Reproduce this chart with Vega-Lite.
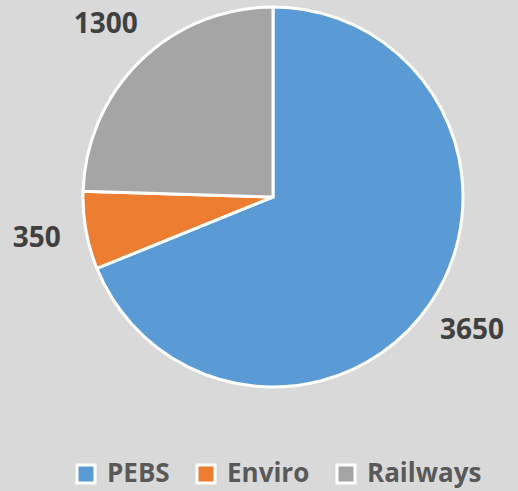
{
  "$schema": "https://vega.github.io/schema/vega-lite/v6.json",
  "width": 380,
  "height": 380,
  "padding": {"left": 83, "top": 7, "right": 55, "bottom": 104},
  "autosize": {"type": "none"},
  "background": "#d9d9d9",
  "config": {"view": {"stroke": null}, "font": "Open Sans"},
  "data": {
    "values": [
      {"category": "PEBS", "value": 3650, "rank": 1},
      {"category": "Enviro", "value": 350, "rank": 2},
      {"category": "Railways", "value": 1300, "rank": 3}
    ]
  },
  "encoding": {
    "theta": {"field": "value", "type": "quantitative", "stack": true},
    "order": {"field": "rank", "type": "quantitative"},
    "color": {
      "field": "category",
      "type": "nominal",
      "scale": {"domain": ["PEBS", "Enviro", "Railways"], "range": ["#5b9bd5", "#ed7d31", "#a5a5a5"]},
      "legend": {
        "title": null,
        "orient": "none",
        "direction": "horizontal",
        "legendX": -10,
        "legendY": 454,
        "symbolType": "square",
        "symbolSize": 324,
        "symbolStrokeColor": "white",
        "symbolStrokeWidth": 3,
        "symbolOpacity": 1,
        "labelFont": "Open Sans",
        "labelFontSize": 26,
        "labelFontWeight": "bold",
        "labelColor": "#595959",
        "labelOffset": 8,
        "columnPadding": 21,
        "labelLimit": 300
      }
    }
  },
  "layer": [
    {"mark": {"type": "arc", "outerRadius": 190, "stroke": "white", "strokeWidth": 3}},
    {
      "mark": {"type": "text", "radius": 240, "font": "Open Sans", "fontSize": 28, "fontWeight": "bold", "fill": "#404040"},
      "encoding": {"text": {"field": "value", "type": "quantitative"}, "color": {"value": "#404040"}}
    }
  ]
}
